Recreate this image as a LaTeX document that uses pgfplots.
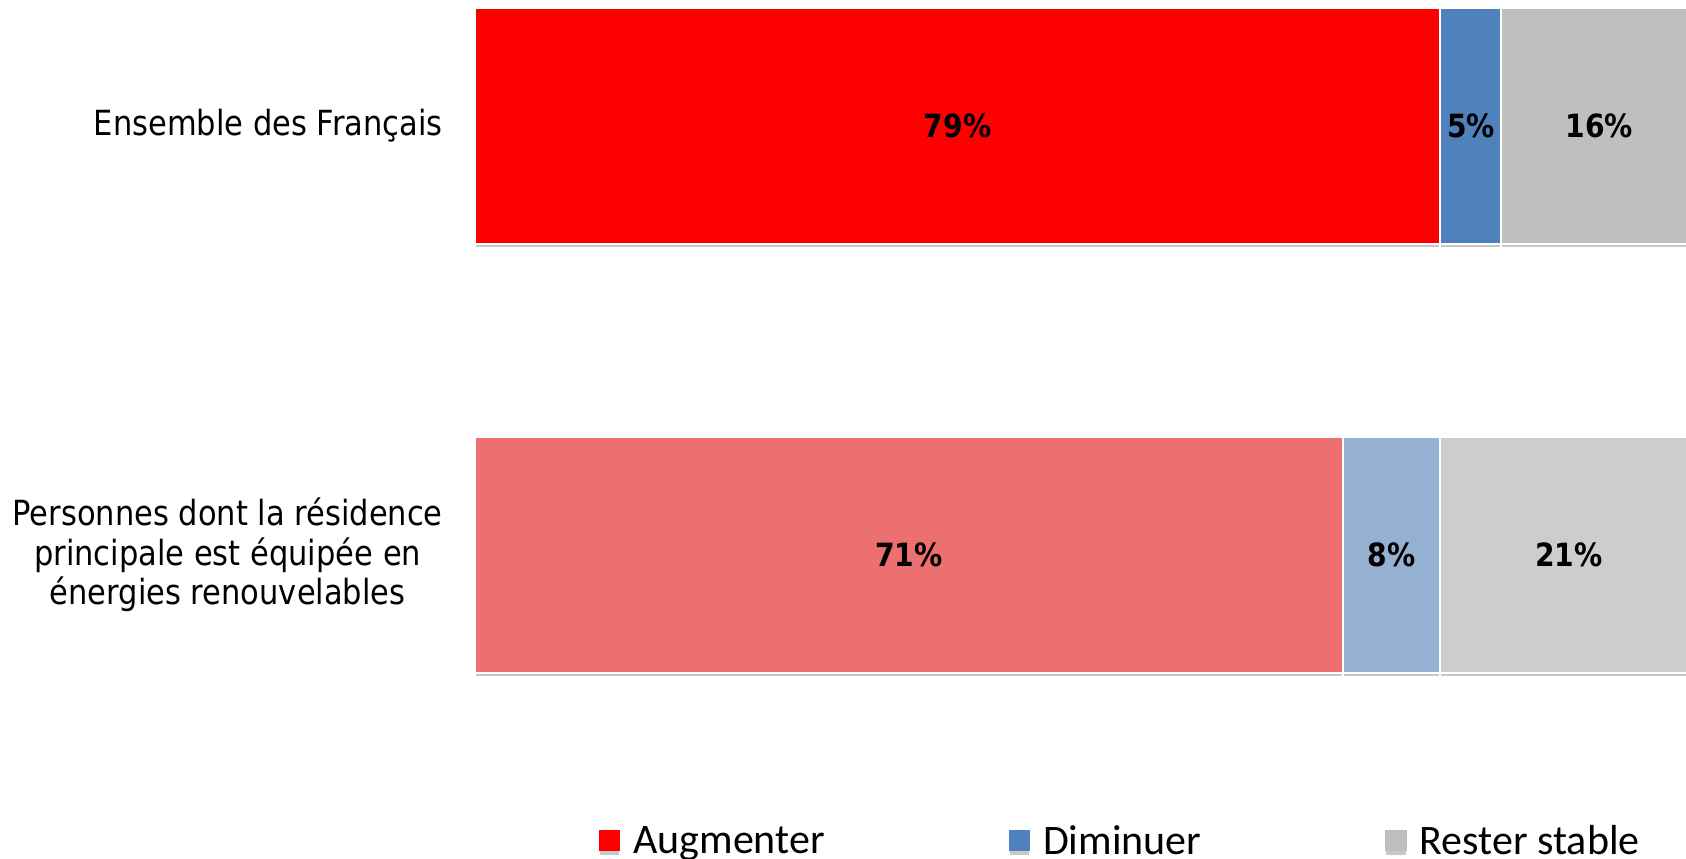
\documentclass[border=0pt]{standalone}
\usepackage{fontspec}
\setmainfont{DejaVu Sans}[FakeStretch=0.88]
\newfontfamily\legfont{Carlito}
\usepackage{pgfplots}
\pgfplotsset{compat=1.18}
\usetikzlibrary{shadows}
\definecolor{cRed}{HTML}{FF0000}
\definecolor{cBlue}{HTML}{4F81BD}
\definecolor{cGray}{HTML}{BFBFBF}
\definecolor{lRed}{HTML}{ED7070}
\definecolor{lBlue}{HTML}{95B0D0}
\definecolor{lGray}{HTML}{CDCDCD}
\pgfplotsset{
  base/.style={
    scale only axis, width=916.5pt, height=544.95pt,
    at={(356.25pt,0pt)}, anchor=north west,
    xmin=0, xmax=100, ymin=-0.4, ymax=1.2937,
    bar width=0.55,
    axis line style={draw=none}, tick style={draw=none},
    major tick length=0pt,
    xtick=\empty,
    yticklabel style={align=center, inner sep=0pt, xshift=-24pt,
      font=\fontsize{26}{29.5}\selectfont},
    clip=false,
  },
  seg/.style={draw=white, line width=1.5pt, fill=#1,
    drop shadow={shadow xshift=0pt, shadow yshift=-3.2pt, fill=black!22, opacity=1}},
}
\begin{document}
\begin{tikzpicture}
% top row
\begin{axis}[base, xbar stacked, ytick={1}, yticklabels={Ensemble des Français},
  legend columns=3,
  legend style={draw=none, fill=none, inner sep=0pt, outer sep=0pt,
    at={(axis description cs:0.1015,-0.157)}, anchor=west,
    font=\legfont\fontsize{31.5}{36}\selectfont,
    nodes={inner sep=0pt},
    /tikz/every odd column/.append style={column sep=9.75pt},
    /tikz/every even column/.append style={column sep=138pt}},
  legend cell align=left,
  legend image code/.code={\path[#1, draw=none] (0pt,-8pt) rectangle (16pt,8pt);},
]
\addplot[seg=cRed] coordinates {(79,1)};
\addlegendentry{Augmenter}
\addplot[seg=cBlue] coordinates {(5,1)};
\addlegendentry{Diminuer}
\addplot[seg=cGray] coordinates {(16,1)};
\addlegendentry{Rester stable}
\end{axis}
% bottom row
\begin{axis}[base, xbar stacked, ytick={0},
  yticklabels={Personnes dont la résidence\\principale est équipée en\\énergies renouvelables}]
\addplot[seg=lRed] coordinates {(71,0)};
\addplot[seg=lBlue] coordinates {(8,0)};
\addplot[seg=lGray] coordinates {(21,0)};
\end{axis}
% value labels
\begin{axis}[base, ytick=\empty]
\addplot[only marks, mark=none, point meta=explicit symbolic,
  nodes near coords={\pgfplotspointmeta\%},
  every node near coord/.style={anchor=center, inner sep=0pt,
    font=\bfseries\fontsize{24}{29}\selectfont}]
  table[meta=lab] {
x y lab
39.5 1 79
81.5 1 5
92 1 16
35.5 0 71
75 0 8
89.5 0 21
};
\end{axis}
\pgfresetboundingbox
\useasboundingbox (0pt,0pt) rectangle (1264.5pt,-644.25pt);
\end{tikzpicture}
\end{document}
